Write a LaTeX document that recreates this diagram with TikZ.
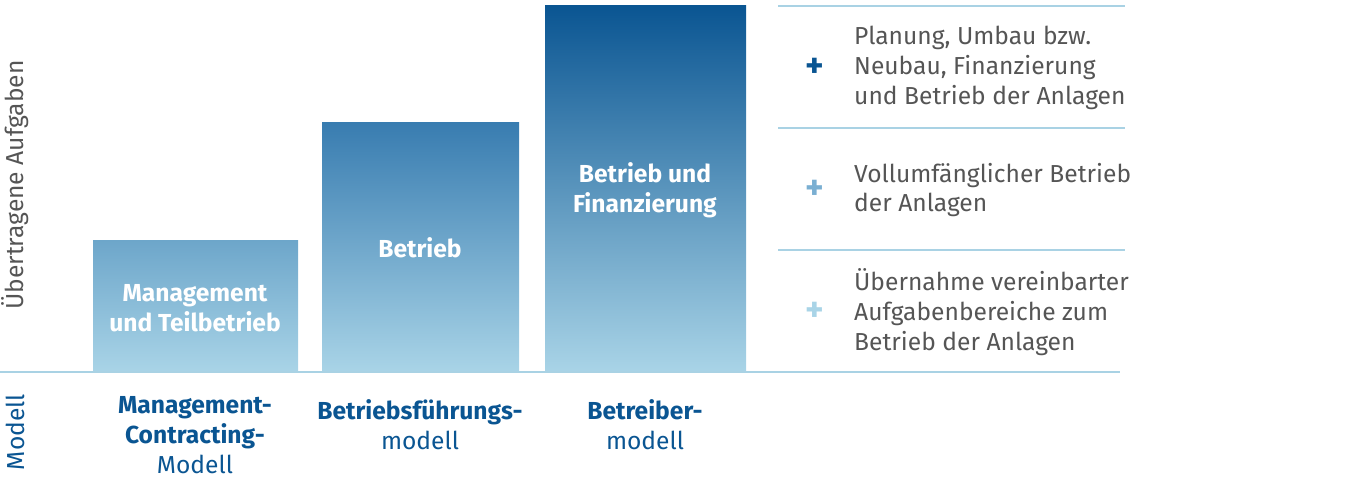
\documentclass[tikz,border=0pt]{standalone}
\usepackage{fontspec}
\setmainfont{Fira Sans}
\usepackage{tikz}
\definecolor{darkblue}{HTML}{0A5592}
\definecolor{midblue}{HTML}{387CB0}
\definecolor{paleblue}{HTML}{6DA6CA}
\definecolor{plusblue}{HTML}{7AAFD2}
\definecolor{lightblue}{HTML}{A9D4E7}
\definecolor{rulecol}{HTML}{A9D2E4}
\definecolor{txtgray}{HTML}{555555}
\begin{document}
\begin{tikzpicture}[x=0.02cm,y=-0.02cm,
    bartext/.style={text=white,font=\fontsize{14}{17}\selectfont\bfseries,align=center},
    modeltext/.style={text=darkblue,font=\fontsize{14}{17}\selectfont,align=center},
    righttext/.style={text=txtgray,font=\fontsize{14}{17}\selectfont,align=left,anchor=west},
    plussign/.style={font=\fontsize{20}{20}\selectfont\bfseries},
    rule/.style={rulecol,line width=1.2pt}]

    \useasboundingbox (0,0) rectangle (1360,490);

    % bars
    \shade[top color=paleblue,bottom color=lightblue] (93,240) rectangle (298,372);
    \shade[top color=midblue,bottom color=lightblue] (322,122) rectangle (519,372);
    \shade[top color=darkblue,bottom color=lightblue] (545,5) rectangle (746,372);

    \node[bartext] (mgmt) at (195,308) {Management\\und Teilbetrieb};
    \node[bartext] (betr) at (420,248) {Betrieb};
    \node[bartext] (fin) at (645,190) {Betrieb und\\Finanzierung};

    % baseline and rules
    \draw[rule] (0,372) -- (1120,372);
    \draw[rule] (778,6) -- (1125,6);
    \draw[rule] (778,128) -- (1125,128);
    \draw[rule] (778,250) -- (1125,250);

    % right side
    \node[plussign,text=darkblue] (p1) at (815,68) {+};
    \node[plussign,text=plusblue] (p2) at (815,190) {+};
    \node[plussign,text=lightblue] (p3) at (815,312) {+};
    \node[righttext] (t1) at (848,68) {Planung, Umbau bzw.\\Neubau, Finanzierung\\und Betrieb der Anlagen};
    \node[righttext] (t2) at (848,190) {Vollumfänglicher Betrieb\\der Anlagen};
    \node[righttext] (t3) at (848,312) {Übernahme vereinbarter\\Aufgabenbereiche zum\\Betrieb der Anlagen};

    % axis labels
    \node[rotate=90,text=txtgray,font=\fontsize{14}{17}\selectfont] (ylab) at (15,185) {Übertragene Aufgaben};
    \node[rotate=90,text=darkblue,font=\fontsize{14}{17}\selectfont] (mlab) at (15,432) {Modell};

    % model names
    \node[modeltext] (m1) at (195,435) {\textbf{Management-}\\\textbf{Contracting-}\\Modell};
    \node[modeltext,anchor=north] (m2) at (420,393) {\textbf{Betriebsführungs-}\\modell};
    \node[modeltext,anchor=north] (m3) at (645,393) {\textbf{Betreiber-}\\modell};

  \end{tikzpicture}
\end{document}
